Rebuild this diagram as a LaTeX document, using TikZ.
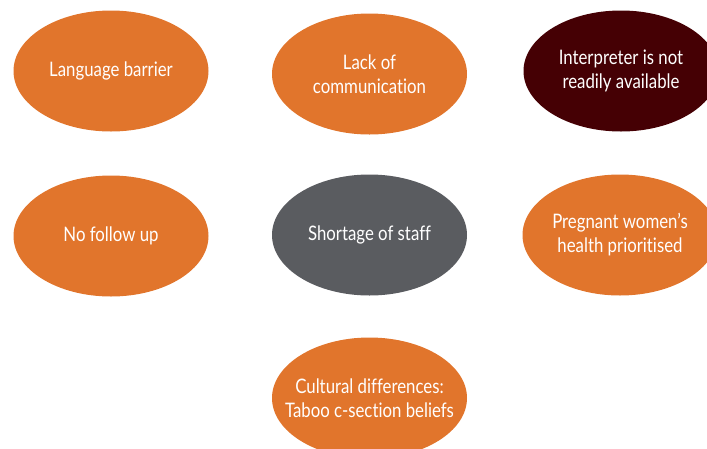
\documentclass[tikz,border=0pt]{standalone}
\usepackage{fontspec}
\setmainfont{Lato}[FakeStretch=0.84,Ligatures=NoCommon]
\usetikzlibrary{shapes.geometric}
\definecolor{barrierorange}{RGB}{225,117,44}
\definecolor{barriermaroon}{RGB}{69,0,4}
\definecolor{barriergrey}{RGB}{90,92,96}
\tikzset{barrier/.style={ellipse,fill=barrierorange,inner sep=0pt,minimum width=195pt,minimum height=121pt,label={[bartext]center:#1}}}
\tikzset{bartext/.style={text=white,align=center,font=\fontsize{20}{24}\selectfont}}
\tikzset{darkbarrier/.style={barrier=#1,fill=barriermaroon}}
\tikzset{greybarrier/.style={barrier=#1,fill=barriergrey}}

\begin{document}
\begin{tikzpicture}[x=1pt,y=-1pt]
    \useasboundingbox (0,0) rectangle (707,448);
    \clip (0,0) rectangle (707,448);
    \node[barrier={Language barrier}] (lang) at (111,71) {};
    \node[barrier={Lack of\\communication}] (comm) at (369.5,74) {};
    \node[darkbarrier={Interpreter is not\\readily available}] (interp) at (621,71) {};
    \node[barrier={No follow up}] (follow) at (111,236) {};
    \node[greybarrier={Shortage of staff}] (staff) at (369.5,235) {};
    \node[barrier={Pregnant women’s\\health prioritised}] (preg) at (620,235) {};
    \node[barrier={Cultural differences:\\Taboo c-section beliefs}] (culture) at (369.5,398) {};
\end{tikzpicture}
\end{document}
